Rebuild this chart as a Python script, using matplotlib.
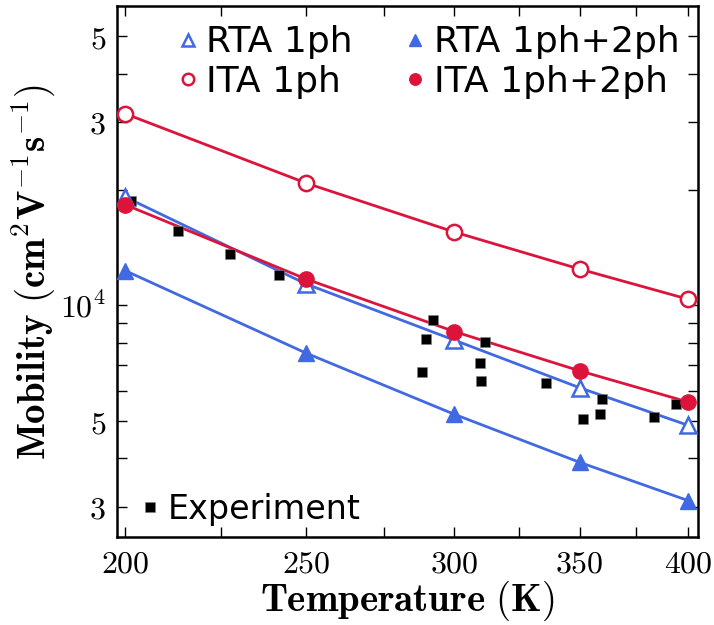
import matplotlib
matplotlib.use("Agg")
import matplotlib.pyplot as plt
from matplotlib.ticker import FixedLocator, FixedFormatter, NullFormatter
import numpy as np

plt.rcParams['mathtext.fontset'] = 'cm'
plt.rcParams['font.family'] = 'DejaVu Sans'

# temperatures of the calculations (K)
temps = [200, 250, 300, 350, 400]

# mobilities (cm^2 V^-1 s^-1)
rta_1ph = [19130, 11360, 8120, 6110, 4880]
rta_1ph2ph = [12310, 7510, 5210, 3910, 3110]
ita_1ph = [31490, 20780, 15510, 12430, 10380]
ita_1ph2ph = [18270, 11700, 8550, 6760, 5610]

# experiment
exp_T = [201.5, 213.4, 227.6, 241.8, 288.2, 289.7, 292.3, 309.6, 310.0, 311.5,
         335.9, 351.3, 358.8, 359.9, 383.7, 394.2]
exp_mu = [18680, 15640, 13620, 11990, 6710, 8200, 9150, 7070, 6375, 8050,
          6284, 5053, 5230, 5697, 5135, 5553]

blue = '#4169E1'
red = '#DC143C'

fig = plt.figure(figsize=(7.14, 6.25), dpi=100)
ax = fig.add_axes([0.1639, 0.1408, 0.8137, 0.8496])

ax.set_xscale('log')
ax.set_yscale('log')

# lines
ax.plot(temps, rta_1ph, '-', color=blue, lw=2.0, zorder=2)
ax.plot(temps, rta_1ph2ph, '-', color=blue, lw=2.0, zorder=2)
ax.plot(temps, ita_1ph, '-', color=red, lw=2.0, zorder=2)
ax.plot(temps, ita_1ph2ph, '-', color=red, lw=2.0, zorder=2)

# experiment
exp_h, = ax.plot(exp_T, exp_mu, 's', color='black', ms=7.5, mec='0.5', mew=0.4,
                 linestyle='none', label='Experiment', zorder=3)

# markers
h1, = ax.plot(temps, rta_1ph, '^', ms=12, mfc='white', mec=blue, mew=1.8,
              linestyle='none', label='RTA 1ph', zorder=4)
h2, = ax.plot(temps, rta_1ph2ph, '^', ms=12, color=blue,
              linestyle='none', label='RTA 1ph+2ph', zorder=4)
h3, = ax.plot(temps, ita_1ph, 'o', ms=11, mfc='white', mec=red, mew=1.8,
              linestyle='none', label='ITA 1ph', zorder=4)
h4, = ax.plot(temps, ita_1ph2ph, 'o', ms=11, color=red,
              linestyle='none', label='ITA 1ph+2ph', zorder=5)

ax.set_xlim(198, 405)
ax.set_ylim(2500, 60000)

# x ticks
ax.xaxis.set_major_locator(FixedLocator([200, 250, 300, 350, 400]))
ax.xaxis.set_major_formatter(FixedFormatter(['$200$', '$250$', '$300$', '$350$', '$400$']))
ax.xaxis.set_minor_locator(FixedLocator([225, 275, 325, 375]))
ax.xaxis.set_minor_formatter(NullFormatter())

# y ticks
ax.yaxis.set_major_locator(FixedLocator([1e4]))
ax.yaxis.set_major_formatter(FixedFormatter(['$10^4$']))
yminor = [3e3, 4e3, 5e3, 6e3, 7e3, 8e3, 9e3, 2e4, 3e4, 4e4, 5e4]
ylabels = ['$3$', '', '$5$', '', '', '', '', '', '$3$', '', '$5$']
ax.yaxis.set_minor_locator(FixedLocator(yminor))
ax.yaxis.set_minor_formatter(FixedFormatter(ylabels))

ax.tick_params(which='both', direction='in', top=True, right=True,
               length=7, width=1.0, labelsize=23, pad=8)
for s in ax.spines.values():
    s.set_linewidth(1.8)

ax.set_xlabel(r'$\mathbf{Temperature\ (K)}$', fontsize=28, labelpad=0)
ax.set_ylabel(r'$\mathbf{Mobility\ (cm^2V^{-1}s^{-1})}$', fontsize=28, labelpad=2)

leg1 = ax.legend(handles=[h1, h3, h2, h4], ncol=2, loc='upper left',
                 bbox_to_anchor=(0.05, 1.025), frameon=False, fontsize=26,
                 markerscale=0.75, handlelength=0.5, handletextpad=0.25,
                 columnspacing=1.5, labelspacing=0.15)
ax.add_artist(leg1)
ax.legend(handles=[exp_h], loc='lower left', bbox_to_anchor=(-0.01, -0.035),
          frameon=False, fontsize=24, handlelength=0.5, handletextpad=0.3)

fig.savefig('out.png', dpi=100)
